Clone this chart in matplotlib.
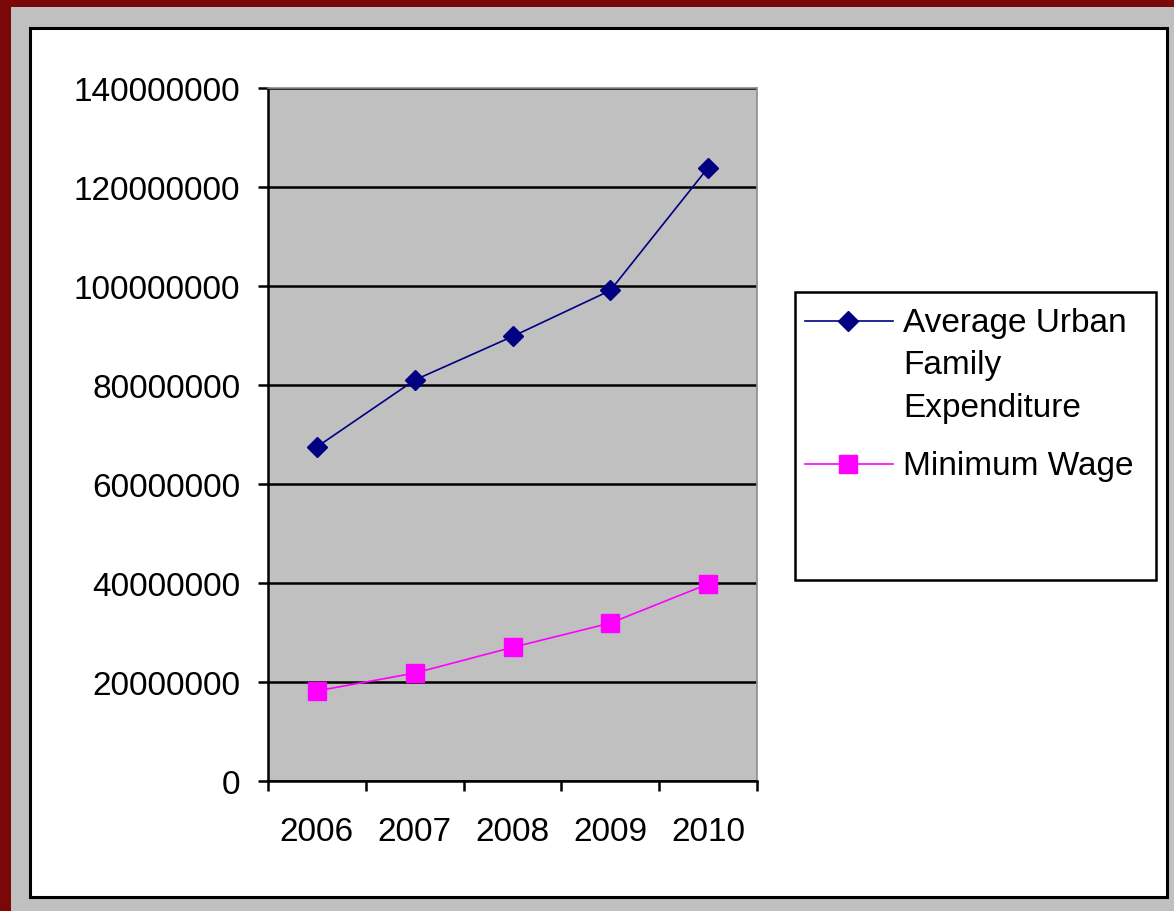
import numpy as np
import matplotlib.pyplot as plt
from matplotlib.patches import Rectangle
from matplotlib.lines import Line2D

# datos
anios = ['2006', '2007', '2008', '2009', '2010']
gasto_familiar = [67500000, 81000000, 89800000, 99100000, 123900000]
salario_minimo = [18200000, 21800000, 27000000, 31900000, 39800000]
y_ticks = [0, 20000000, 40000000, 60000000, 80000000, 100000000, 120000000, 140000000]
etiquetas = [['Average Urban', 'Family', 'Expenditure'], ['Minimum Wage']]

plt.rcParams['font.family'] = ['Liberation Sans', 'DejaVu Sans']
FS = 24

fig = plt.figure(figsize=(11.74, 9.12), dpi=100, facecolor='#7a0808')
W, H = 1174, 912

def px(x0, y0, x1, y1):
    # caja en pixeles -> coordenadas de figura
    return x0 / W, 1 - y1 / H, (x1 - x0) / W, (y1 - y0) / H

# marco gris y area blanca del grafico
x, y, w, h = px(11, 8, 1174, 912)
fig.patches.append(Rectangle((x, y), w, h, transform=fig.transFigure,
                             facecolor='#c0c0c0', edgecolor='none', zorder=0))
x, y, w, h = px(30, 29, 1167, 898)
fig.patches.append(Rectangle((x, y), w, h, transform=fig.transFigure,
                             facecolor='white', edgecolor='black', lw=2.2, zorder=1))

ax = fig.add_axes(px(268, 89, 757, 782))
ax.set_facecolor('#c0c0c0')
ax.set_zorder(2)

pos = np.arange(len(anios))
estilos = [dict(color='#000080', marker='D', ms=10.5),
           dict(color='#ff00ff', marker='s', ms=13)]
ax.plot(pos, gasto_familiar, lw=1.2, zorder=3, **estilos[0])
ax.plot(pos, salario_minimo, lw=1.2, zorder=3, **estilos[1])

ax.set_ylim(0, 140000000)
ax.set_yticks(y_ticks)
ax.set_yticklabels([str(v) for v in y_ticks])
ax.yaxis.grid(True, color='black', lw=1.8)
ax.set_axisbelow(True)

ax.set_xlim(-0.5, len(anios) - 0.5)
ax.set_xticks(np.arange(-0.5, len(anios), 1.0))
ax.set_xticklabels([])
ax.set_xticks(pos, minor=True)
ax.set_xticklabels(anios, minor=True)
ax.tick_params(axis='x', which='minor', length=0, pad=25, labelsize=FS)
ax.tick_params(axis='x', which='major', length=7, width=1.8, direction='out')
ax.tick_params(axis='y', length=7, width=1.8, pad=13, labelsize=FS)

for s in ['left', 'bottom']:
    ax.spines[s].set_color('black')
    ax.spines[s].set_linewidth(1.8)
for s in ['top', 'right']:
    ax.spines[s].set_color('#8c8c8c')
    ax.spines[s].set_linewidth(1.2)

# leyenda dibujada a mano (el simbolo va alineado con la primera linea)
x, y, w, h = px(795, 293, 1156, 581)
fig.patches.append(Rectangle((x, y), w, h, transform=fig.transFigure,
                             facecolor='white', edgecolor='black', lw=1.8, zorder=2))
handle_y = [322, 465]
base_y = [[332, 374, 417], [475]]
for est, hy, lineas, bys in zip(estilos, handle_y, etiquetas, base_y):
    fig.add_artist(Line2D([805 / W, 893 / W], [1 - hy / H] * 2, color=est['color'],
                          lw=1.2, transform=fig.transFigure, zorder=4))
    fig.add_artist(Line2D([848 / W], [1 - hy / H], color=est['color'], marker=est['marker'],
                          ms=est['ms'], transform=fig.transFigure, zorder=4))
    for txt, by in zip(lineas, bys):
        fig.text(903 / W, 1 - by / H, txt, fontsize=FS, va='baseline', ha='left', zorder=4)

fig.savefig('out.png', dpi=100, facecolor=fig.get_facecolor())
